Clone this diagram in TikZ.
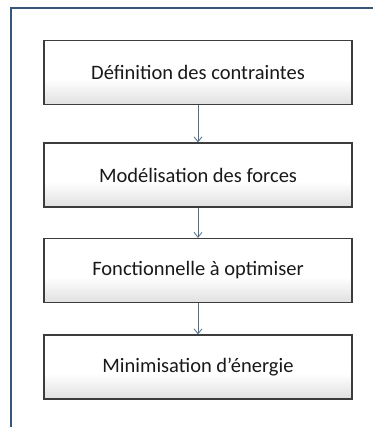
\documentclass[tikz,border=0pt]{standalone}
\usepackage{fontspec}
\setmainfont{Carlito}
\usetikzlibrary{arrows.meta}
\definecolor{framecol}{HTML}{35587A}
\definecolor{linkcol}{HTML}{4F6E8C}
\definecolor{boxedge}{HTML}{3C3C3C}
\definecolor{boxfoot}{HTML}{E0E0E0}
\pgfdeclareverticalshading{boxfade}{100bp}{color(0bp)=(boxfoot); color(25bp)=(boxfoot); color(45bp)=(white); color(100bp)=(white)}
\tikzset{
  stage/.style={draw=boxedge, line width=1.2pt, shading=boxfade,
    minimum width=308pt, minimum height=64pt, inner sep=0pt,
    font=\fontsize{20.5}{24}\selectfont, text=black!90},
  link/.style={draw=linkcol, line width=0.8pt, -{Straight Barb[length=5pt,width=8pt]}}
}
\begin{document}
\begin{tikzpicture}[x=1pt,y=-1pt]
  \useasboundingbox (0,0) rectangle (373,427);
  % open frame: top and left sides
  \draw[framecol, line width=2pt] (373,8) -- (11,8) -- (11,427);
  \node[stage] (s1) at (198,72.5) {Définition des contraintes};
  \node[stage] (s2) at (198,175) {Modélisation des forces};
  \node[stage] (s3) at (198,270.5) {Fonctionnelle à optimiser};
  \node[stage] (s4) at (198,367) {Minimisation d’énergie};
  \draw[link] (s1) -- (s2);
  \draw[link] (s2) -- (s3);
  \draw[link] (s3) -- (s4);
\end{tikzpicture}
\end{document}
